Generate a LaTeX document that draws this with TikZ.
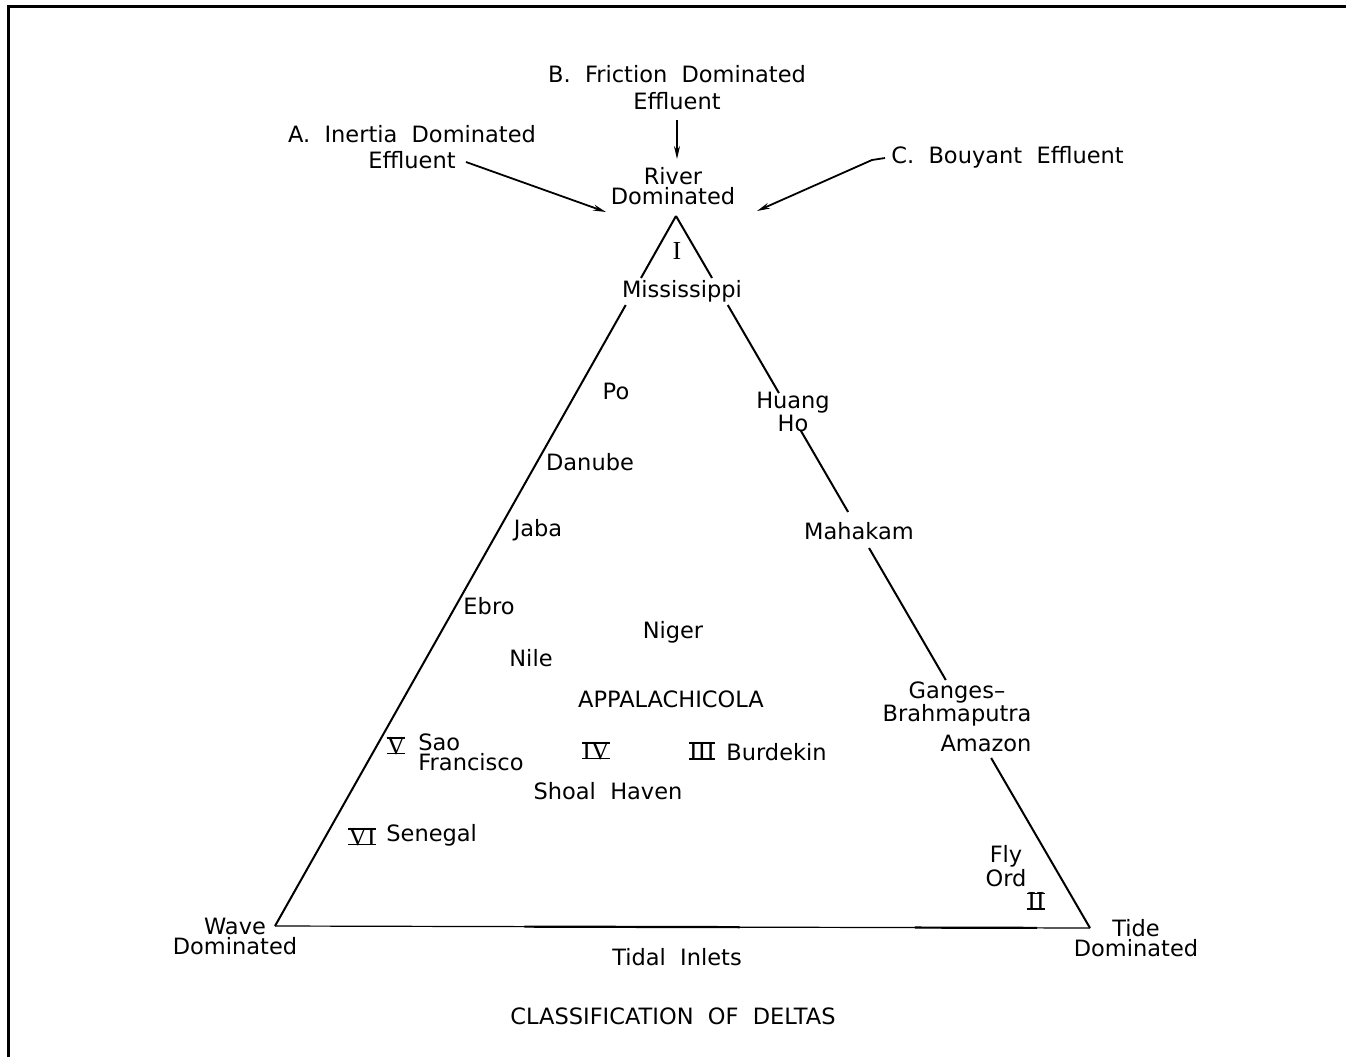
\documentclass[tikz,border=0pt]{standalone}
\usepackage{fontspec}
\setmainfont{DejaVu Sans}
\newfontfamily\romfont{Liberation Serif}
\usetikzlibrary{arrows.meta,calc}
\newsavebox\rombox
\newcommand\rnum[1]{\sbox\rombox{#1}\rlap{\rule{\wd\rombox}{0.7pt}}\rlap{\raisebox{\dimexpr\ht\rombox-0.7pt\relax}{\rule{\wd\rombox}{0.7pt}}}\usebox\rombox}
\tikzset{
  lbl/.style={font=\fontsize{11.25}{10}\selectfont, inner sep=1pt, align=center},
  onl/.style={lbl, fill=white, inner sep=2pt},
  rom/.style={font=\romfont\fontsize{13}{12}\selectfont, inner sep=1pt},
  edge/.style={line width=1pt},
  flow/.style={line width=0.9pt, -{Stealth[length=6.5pt,width=3pt]}},
  frame/.style={line width=1.5pt}
}
\begin{document}
\begin{tikzpicture}[x=0.5pt, y=-0.5pt]
\useasboundingbox (0,0) rectangle (1346,1057);
% frame
\draw[frame] (8,1057) -- (8,6) -- (1346,6);

% triangle corners
\coordinate (T) at (676,216);
\coordinate (L) at (275,926);
\coordinate (R) at (1090,928);

% left edge (gap at Mississippi)
\draw[edge] (T) -- ($(T)!0.0873!(L)$);
\draw[edge] ($(T)!0.1254!(L)$) -- (L);
% right edge (gaps at labels)
\draw[edge] (T) -- ($(T)!0.087!(R)$);
\draw[edge] ($(T)!0.125!(R)$) -- ($(T)!0.2486!(R)$);
\draw[edge] ($(T)!0.3006!(R)$) -- ($(T)!0.4157!(R)$);
\draw[edge] ($(T)!0.4663!(R)$) -- ($(T)!0.6517!(R)$);
\draw[edge] ($(T)!0.7612!(R)$) -- (R);
% base
\draw[line width=0.6pt] (L) -- (R);
\draw[line width=1.1pt] ($(L)!0.306!(R)$) -- ($(L)!0.57!(R)$);
\draw[line width=1.1pt] ($(L)!0.785!(R)$) -- ($(L)!0.935!(R)$);

% top labels
\node[lbl, font=\fontsize{11.25}{13.5}\selectfont] (B) at (677,88) {B.~~Friction~~Dominated\\Effluent};
\node[lbl, font=\fontsize{11.25}{13}\selectfont] (A) at (412,147) {A.~~Inertia~~Dominated\\Effluent};
\node[lbl, anchor=west] (C) at (889,157) {C.~~Bouyant~~Effluent};
\node[lbl] (river) at (673,186) {River\\Dominated};

\coordinate (Bs) at (677,120);
\coordinate (Be) at (677,159);
\coordinate (As) at (466,162);
\coordinate (Ae) at (606,212);
\coordinate (Cs) at (885,158);
\coordinate (Ck) at (872,160);
\coordinate (Ce) at (757,211);
\draw[flow] (Bs) -- (Be);
\draw[flow] (As) -- (Ae);
\draw[flow] (Cs) -- (Ck) -- (Ce);

% numerals
\node[rom] (n1) at (677,251) {I};
\node[rom] (n2) at (1036,901) {\rnum{II}};
\node[rom] (n3) at (702,751) {\rnum{III}};
\node[rom] (n4) at (596,751) {\rnum{IV}};
\node[rom] (n5) at (396,746) {\rnum{V}};
\node[rom] (n6) at (362,837) {\rnum{VI}};

% deltas
\node[lbl] (miss) at (682,291) {Mississippi};
\node[lbl] (po) at (616,391) {Po};
\node[lbl, font=\fontsize{11.25}{8.5}\selectfont] (huang) at (793,412) {Huang\\Ho};
\node[lbl] (danube) at (590,462) {Danube};
\node[lbl] (jaba) at (538,530) {Jaba};
\node[lbl] (mahakam) at (859,531) {Mahakam};
\node[lbl] (ebro) at (489,606) {Ebro};
\node[lbl] (niger) at (673,632) {Niger};
\node[lbl] (nile) at (531,658) {Nile};
\node[lbl] (appa) at (671,699) {APPALACHICOLA};
\node[lbl] (ganges) at (957,704) {Ganges–\\Brahmaputra};
\node[lbl] (amazon) at (986,743) {Amazon};
\node[lbl, align=left, anchor=west] (sao) at (416,752) {Sao\\Francisco};
\node[lbl, anchor=west] (burd) at (724,752) {Burdekin};
\node[lbl] (shoal) at (608,791) {Shoal~~Haven};
\node[lbl, anchor=west] (seneg) at (384,835) {Senegal};
\node[lbl, font=\fontsize{11.25}{9.5}\selectfont] (fly) at (1006,866) {Fly\\Ord};

% corner labels
\node[lbl] (wave) at (235,936) {Wave\\Dominated};
\node[lbl] (tide) at (1136,938) {Tide\\Dominated};
\node[lbl] (tidal) at (677,957) {Tidal~~Inlets};
\node[lbl] (title) at (673,1016) {CLASSIFICATION~~OF~~DELTAS};
\end{tikzpicture}
\end{document}
